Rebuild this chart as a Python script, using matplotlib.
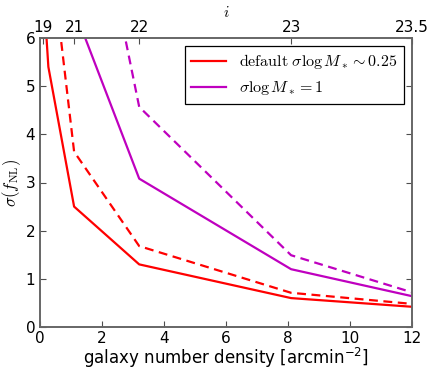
import numpy as np
import matplotlib
matplotlib.use('Agg')
import matplotlib.pyplot as plt

plt.rcParams['mathtext.fontset'] = 'cm'
plt.rcParams['font.family'] = 'DejaVu Sans'

# densite de galaxies (arcmin^-2) pour chaque limite en magnitude i
density = [0.09, 0.27, 1.1, 3.2, 8.1, 12.0]

# sigma(f_NL) : default sigma logM* ~ 0.25
sig_def = [7.2, 5.4, 2.5, 1.3, 0.6, 0.42]
sig_def_dash = [14.0, 8.2, 3.64, 1.68, 0.71, 0.48]
# sigma logM* = 1
sig_one = [20.0, 15.0, 6.6, 3.08, 1.2, 0.64]
sig_one_dash = [30.0, 20.0, 11.2, 4.57, 1.49, 0.72]

# axe du haut : magnitude i
i_pos = [0.09, 1.1, 3.2, 8.1, 12.0]
i_labels = ['19', '21', '22', '23', '23.5']

fig = plt.figure(figsize=(4.37, 3.73), dpi=100)
ax = fig.add_axes([40 / 437, 1 - 327 / 373, 372 / 437, 289 / 373])

ax.plot(density, sig_def, color='r', lw=1.6, label=r'$\mathrm{default}\ \sigma\log M_*\sim0.25$')
ax.plot(density, sig_one, color='m', lw=1.6, label=r'$\sigma\log M_*=1$')
ax.plot(density, sig_def_dash, color='r', lw=1.6, ls='--', dashes=(4, 2.5))
ax.plot(density, sig_one_dash, color='m', lw=1.6, ls='--', dashes=(4, 2.5))

ax.set_xlim(0, 12)
ax.set_ylim(0, 6)
ax.set_xticks([0, 2, 4, 6, 8, 10, 12])
ax.set_yticks([0, 1, 2, 3, 4, 5, 6])
ax.tick_params(direction='in', labelsize=11, right=True, length=4, width=0.8, color='0.3')
ax.tick_params(axis='x', pad=3)
ax.set_xlabel(r'galaxy number density [arcmin$^{-2}$]', fontsize=12,
              math_fontfamily='dejavusans', labelpad=0)
ax.set_ylabel(r'$\sigma(f_{\rm NL})$', fontsize=12, labelpad=2)

leg = ax.legend(loc='upper right', fontsize=11.5, fancybox=False, framealpha=1,
                edgecolor='black', handlelength=2.2, borderaxespad=0.5)
leg.get_frame().set_linewidth(0.9)

ax2 = ax.twiny()
ax2.set_xlim(ax.get_xlim())
ax2.set_xticks(i_pos)
ax2.set_xticklabels(i_labels)
ax2.tick_params(direction='in', labelsize=11, length=4, width=0.8, color='0.3', pad=2)
ax2.set_xlabel(r'$i$', fontsize=11, labelpad=2)

for a in (ax, ax2):
    for s in a.spines.values():
        s.set_color('0.4')
        s.set_linewidth(1.2)

fig.savefig('out.png', dpi=100)
